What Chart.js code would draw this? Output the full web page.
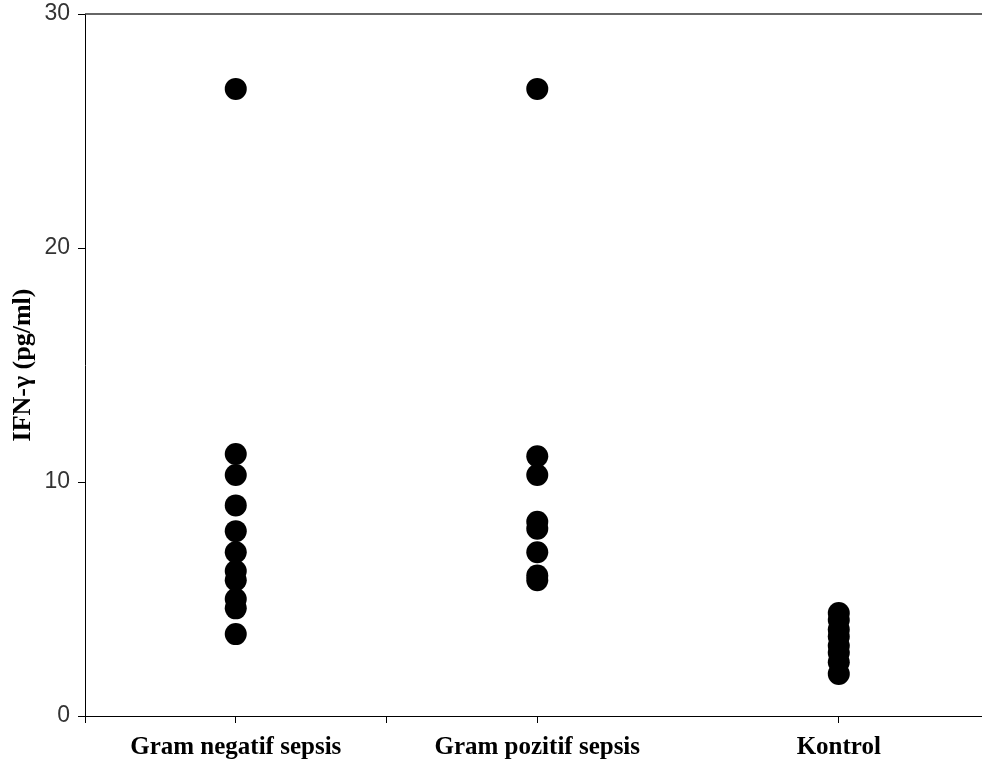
<!DOCTYPE html>
<html lang="en">
<head>
  <meta charset="UTF-8">
  <title>IFN-γ (pg/ml)</title>
  <script src="https://cdn.jsdelivr.net/npm/chart.js"></script>
  <style>
    html, body { margin: 0; padding: 0; background: #ffffff; }
    #wrap { width: 982px; height: 770px; }
  </style>
</head>
<body>
  <div id="wrap"><canvas id="ifnChart"></canvas></div>

  <script>
    // groups and where they sit on the x axis
    const groups = ['Gram negatif sepsis', 'Gram pozitif sepsis', 'Kontrol'];
    const groupPos = [1, 3, 5];
    const xTickValues = [0, 1, 2, 3, 5];
    const yTickValues = [0, 10, 20, 30];

    // IFN-γ values
    const gramNegatif = [26.8, 11.2, 10.3, 9.0, 7.9, 7.0, 6.2, 5.8, 5.0, 4.6, 3.5];
    const gramPozitif = [26.8, 11.1, 10.3, 8.3, 8.0, 7.0, 6.0, 5.8];
    const kontrol = [4.4, 4.1, 3.7, 3.4, 3.0, 2.7, 2.3, 1.8];

    const seriesValues = [gramNegatif, gramPozitif, kontrol];

    const points = [];
    seriesValues.forEach((vals, i) => {
      vals.forEach(v => points.push({ x: groupPos[i], y: v }));
    });

    // line along the top of the plot
    const topLine = {
      id: 'topLine',
      afterDraw(chart) {
        const { ctx, chartArea } = chart;
        ctx.save();
        ctx.strokeStyle = '#333';
        ctx.lineWidth = 1.5;
        ctx.beginPath();
        ctx.moveTo(chartArea.left, chartArea.top);
        ctx.lineTo(chartArea.right, chartArea.top);
        ctx.stroke();
        ctx.restore();
      }
    };

    const ctx = document.getElementById('ifnChart').getContext('2d');
    const chart = new Chart(ctx, {
      type: 'scatter',
      data: {
        datasets: [{
          data: points,
          backgroundColor: '#000',
          borderWidth: 0,
          pointRadius: 11,
          pointHoverRadius: 11
        }]
      },
      options: {
        responsive: true,
        maintainAspectRatio: false,
        devicePixelRatio: 1,
        animation: false,
        layout: { autoPadding: false, padding: { top: 14, right: 0, left: 0, bottom: 0 } },
        plugins: {
          legend: { display: false },
          tooltip: { enabled: false }
        },
        scales: {
          x: {
            type: 'linear',
            min: 0,
            max: 5.95,
            afterBuildTicks: s => { s.ticks = xTickValues.map(v => ({ value: v })); },
            afterFit: s => { s.height = 54; s.paddingLeft = 0; s.paddingRight = 0; },
            grid: { drawOnChartArea: false, drawTicks: true, tickLength: 7, color: '#000' },
            border: { display: true, color: '#000', width: 1 },
            ticks: {
              autoSkip: false,
              maxRotation: 0,
              padding: 10,
              color: '#000',
              font: { family: '"Liberation Serif", serif', size: 25, weight: 'bold' },
              callback: v => {
                const i = groupPos.indexOf(v);
                return i >= 0 ? groups[i] : '';
              }
            }
          },
          y: {
            min: 0,
            max: 30,
            afterBuildTicks: s => { s.ticks = yTickValues.map(v => ({ value: v })); },
            afterFit: s => { s.width = 85; s.paddingTop = 0; s.paddingBottom = 0; },
            grid: { drawOnChartArea: false, drawTicks: true, tickLength: 7, color: '#000' },
            border: { display: true, color: '#000', width: 1 },
            title: {
              display: true,
              text: 'IFN-γ (pg/ml)',
              color: '#000',
              padding: { top: 8, bottom: 0 },
              font: { family: '"Liberation Serif", serif', size: 26, weight: 'bold' }
            },
            ticks: {
              padding: 8,
              color: '#333',
              font: { family: '"Liberation Sans", Arial, sans-serif', size: 23 }
            }
          }
        }
      },
      plugins: [topLine]
    });
  </script>
</body>
</html>
